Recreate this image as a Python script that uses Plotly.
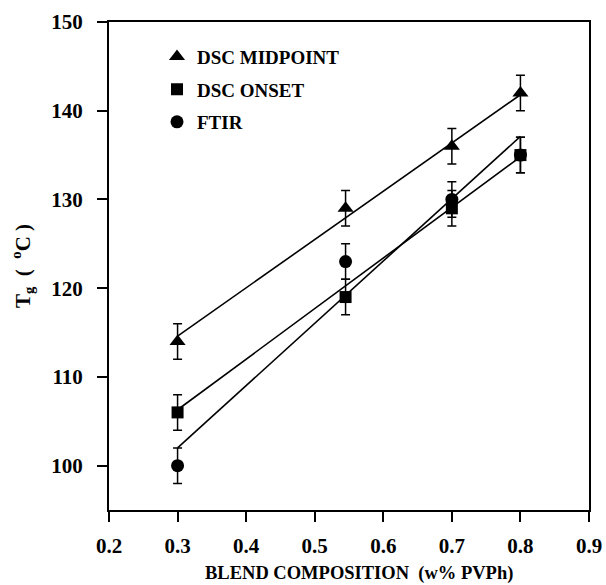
import plotly.graph_objects as go

# Data
composition = [0.3, 0.545, 0.7, 0.8]
dsc_midpoint = [114, 129, 136, 142]
dsc_onset = [106, 119, 129, 135]
ftir = [100, 123, 130, 135]
err_midpoint = [2, 2, 2, 2]
err_onset = [2, 2, 2, 2]
err_ftir = [2, 2, 2, 2]

# Fitted lines (end points)
fit_x = [0.3, 0.8]
fit_midpoint = [114.6, 141.8]
fit_onset = [106.3, 134.8]
fit_ftir = [102.0, 137.1]

x_ticks = [0.2, 0.3, 0.4, 0.5, 0.6, 0.7, 0.8, 0.9]
y_ticks = [100, 110, 120, 130, 140, 150]

FONT = "Liberation Serif"
BLACK = "black"

fig = go.Figure()

for fx, fy in [(fit_x, fit_midpoint), (fit_x, fit_onset), (fit_x, fit_ftir)]:
    fig.add_trace(go.Scatter(x=fx, y=fy, mode="lines",
                             line=dict(color=BLACK, width=1.6),
                             showlegend=False, hoverinfo="skip"))

series = [
    ("DSC MIDPOINT", dsc_midpoint, err_midpoint, "triangle-up", 14),
    ("DSC ONSET", dsc_onset, err_onset, "square", 12),
    ("FTIR", ftir, err_ftir, "circle", 13),
]
for i, (name, ys, es, sym, sz) in enumerate(series):
    fig.add_trace(go.Scatter(
        x=composition, y=ys, mode="markers", name=name,
        legendgroup=f"g{i}",
        marker=dict(symbol=sym, size=sz, color=BLACK),
        error_y=dict(type="data", array=es, visible=True,
                     color=BLACK, thickness=1.5, width=4.5),
    ))

fig.update_layout(
    width=606, height=585,
    margin=dict(l=109, r=17, t=22, b=75, autoexpand=False),
    paper_bgcolor="white", plot_bgcolor="white",
    font=dict(family=FONT, color=BLACK, weight="bold"),
    legend=dict(x=0.1, y=0.968, xanchor="left", yanchor="top",
                font=dict(family=FONT, size=19, weight="bold"),
                bgcolor="rgba(0,0,0,0)", tracegroupgap=5,
                itemclick=False),
    xaxis=dict(range=[0.2, 0.9], tickvals=x_ticks,
               ticktext=[f"{v:.1f}" for v in x_ticks],
               showgrid=False, zeroline=False, automargin=False,
               showline=True, linecolor=BLACK, linewidth=2, mirror=True,
               ticks="outside", ticklen=10, tickwidth=2, tickcolor=BLACK,
               ticklabelstandoff=6,
               tickfont=dict(family=FONT, size=21, weight="bold")),
    yaxis=dict(range=[95, 150], tickvals=y_ticks,
               showgrid=False, zeroline=False, automargin=False,
               showline=True, linecolor=BLACK, linewidth=2, mirror=True,
               ticks="outside", ticklen=10, tickwidth=1.5, tickcolor=BLACK,
               ticklabelstandoff=10,
               tickfont=dict(family=FONT, size=21, weight="bold")),
    annotations=[
        dict(text="T<sub>g</sub>  (  <sup>o</sup>C )",
             xref="paper", yref="paper",
             x=(22 - 109) / 480, y=0.5, xanchor="center", yanchor="middle",
             textangle=-90, showarrow=False,
             font=dict(family=FONT, size=21, weight="bold")),
        dict(text="BLEND COMPOSITION  (w% PVPh)",
             xref="paper", yref="paper",
             x=(359 - 109) / 480, y=-(573 - 510) / 488,
             xanchor="center", yanchor="middle", showarrow=False,
             font=dict(family=FONT, size=18.5, weight="bold")),
    ],
)

fig.write_html("out.html",
               config={"displayModeBar": False},
               post_script="document.body.style.margin='0';document.body.style.padding='0';")
